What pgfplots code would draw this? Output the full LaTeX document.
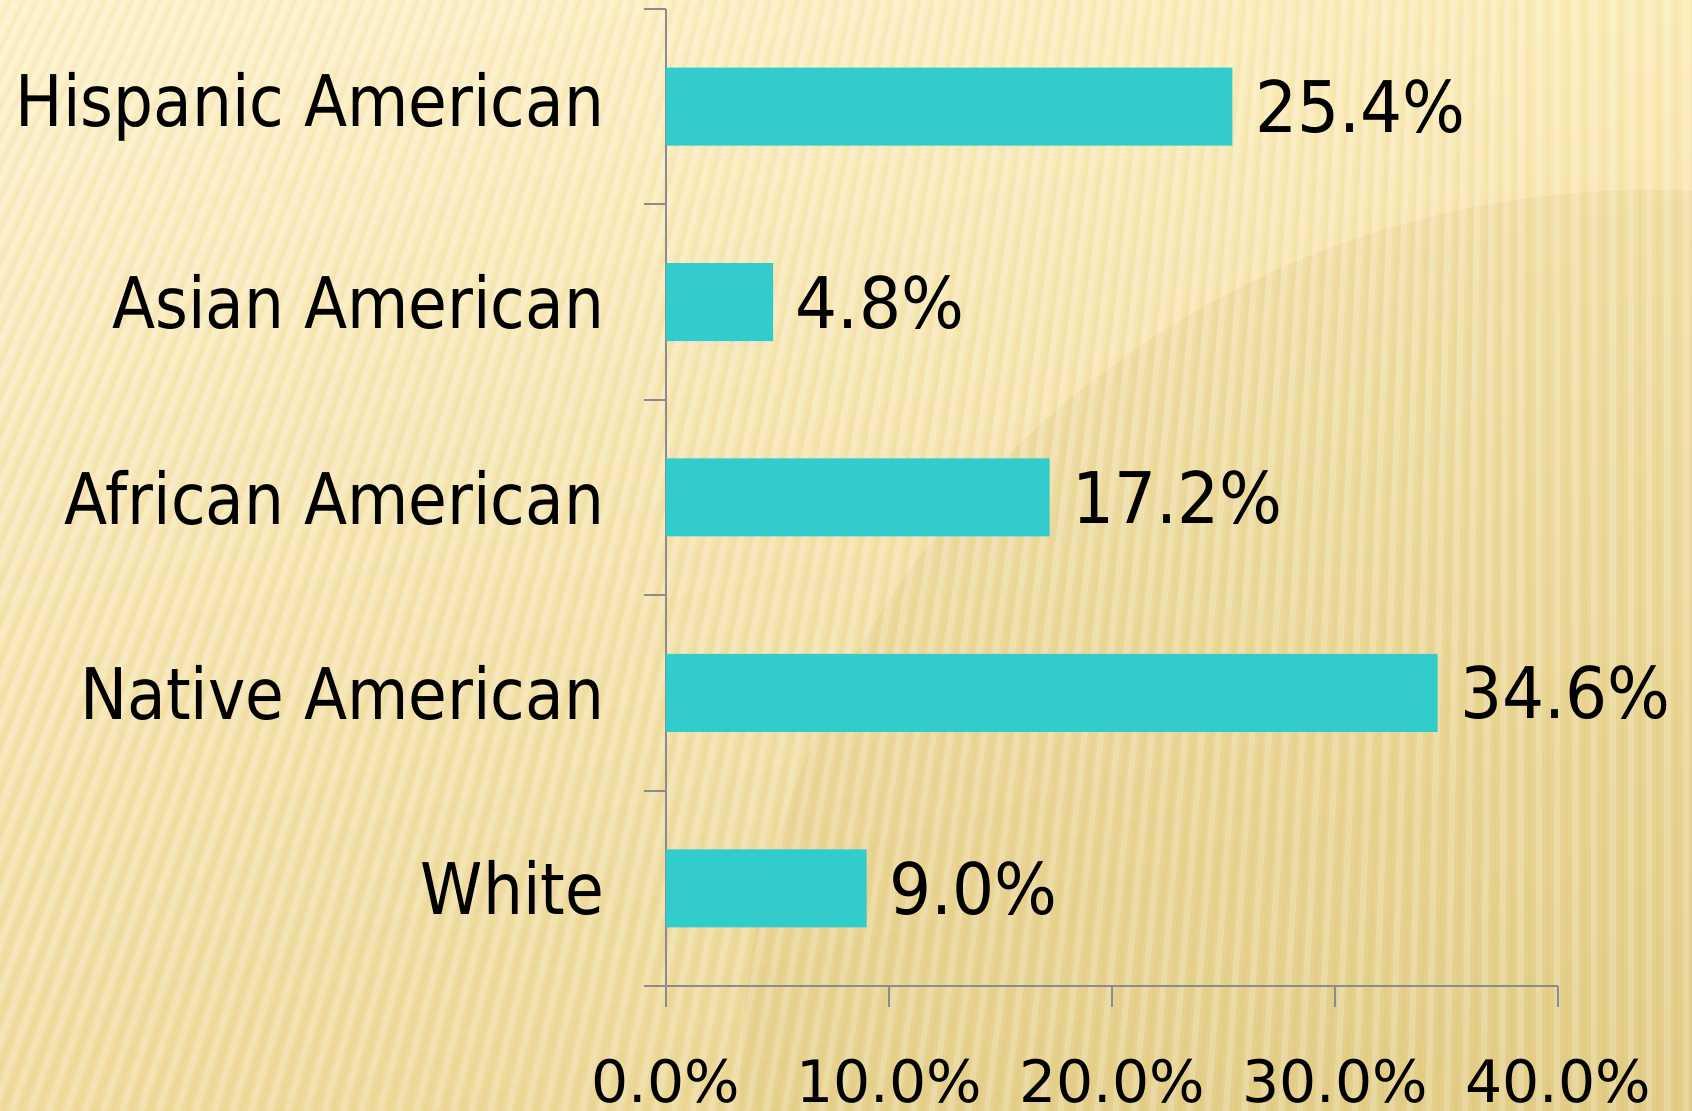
\documentclass[border=0pt]{standalone}
\usepackage{fontspec}
\setmainfont{DejaVu Sans}[FakeStretch=0.885]
\newfontfamily\numfont{DejaVu Sans}[FakeStretch=0.93]
\newfontfamily\tickfont{DejaVu Sans}
\usepackage{pgfplots}
\pgfplotsset{compat=1.18}
\usetikzlibrary{shadings}
\definecolor{barc}{HTML}{33CCCC}
\definecolor{axc}{HTML}{8C8C8C}
\definecolor{bgTL}{HTML}{FDF1C9}
\definecolor{bgTR}{HTML}{FBEBB6}
\definecolor{bgBL}{HTML}{F1DC9F}
\definecolor{bgBR}{HTML}{E6D28E}
\definecolor{bgDark}{HTML}{C8A850}
\begin{document}
\begin{tikzpicture}
\useasboundingbox (-166.5pt,-31.25pt) rectangle (256.5pt,246.5pt);
\shade[upper left=bgTL, upper right=bgTR, lower left=bgBL, lower right=bgBR] (-166.5pt,-31.25pt) rectangle (256.5pt,246.5pt);
\begin{scope}
\clip (-166.5pt,-31.25pt) rectangle (256.5pt,246.5pt);
\fill[bgDark, opacity=0.12] (246pt,-28.5pt) circle (227.5pt);
\foreach \i in {0,...,125}{
  \pgfmathsetmacro\xb{-320+\i*4.6}
  \pgfmathsetmacro\dx{max(0,100*(1-(\xb+166.5)/380))}
  \draw[white, opacity=0.2, line width=1.6pt] (\xb pt,-31.25pt) -- (\xb pt+\dx pt,246.5pt);
  \draw[bgDark, opacity=0.06, line width=1.2pt] (\xb pt+2.3pt,-31.25pt) -- (\xb pt+2.3pt+\dx pt,246.5pt);
}
\end{scope}
\begin{axis}[
  at={(0,0)}, anchor=south west,
  scale only axis, width=223pt, height=244.25pt,
  xmin=0, xmax=40, ymin=0.5, ymax=5.5,
  axis x line*=bottom, axis y line*=left,
  axis line style={axc, line width=0.5pt},
  tick align=outside,
  xtick={0,10,20,30,40},
  xticklabels={0.0\%,10.0\%,20.0\%,30.0\%,40.0\%},
  ytick={1,2,3,4,5},
  yticklabels={White,Native American,African American,Asian American,Hispanic American},
  minor ytick={0.5,1.5,2.5,3.5,4.5,5.5},
  major tick length=5.25pt, minor tick length=5.5pt,
  every major y tick/.append style={draw=none},
  every tick/.append style={axc, line width=0.5pt},
  every minor tick/.append style={axc, line width=0.5pt},
  x tick label style={font=\tickfont\fontsize{14.6}{16}\selectfont, anchor=base, inner sep=0pt, yshift=-24pt},
  y tick label style={font=\fontsize{17.8}{20}\selectfont, anchor=east, inner sep=0pt, xshift=-10pt},
  /pgf/number format/assume math mode=true,
  nodes near coords={\pgfmathprintnumber[fixed,fixed zerofill,precision=1]{\pgfplotspointmeta}\%},
  point meta=x,
  nodes near coords style={font=\numfont\fontsize{17.8}{20}\selectfont, anchor=west, inner sep=0pt, xshift=5.5pt},
  clip=false,
]
\addplot[xbar, fill=barc, draw=none, bar width=19.5pt] coordinates {
  (9.0,1) (34.6,2) (17.2,3) (4.8,4) (25.4,5)
};
\end{axis}
\end{tikzpicture}
\end{document}
